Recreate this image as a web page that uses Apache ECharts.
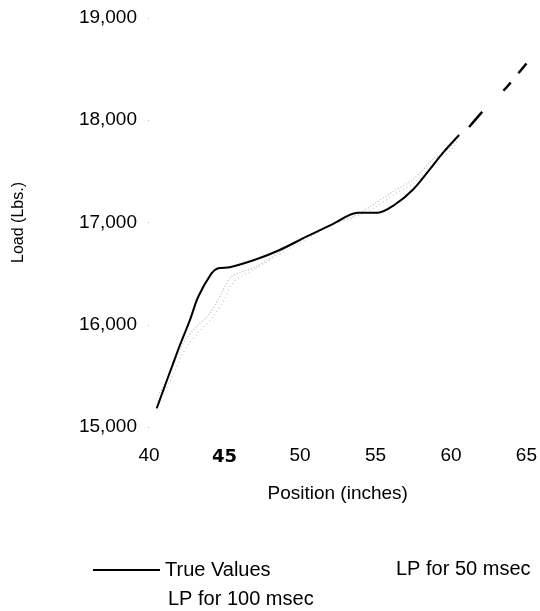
<!DOCTYPE html>
<html>
<head>
<meta charset="utf-8">
<script src="https://cdn.jsdelivr.net/npm/echarts@6/dist/echarts.min.js"></script>
<style>
  html, body { margin: 0; padding: 0; background: #fff; }
  #chart { width: 540px; height: 611px; }
</style>
</head>
<body>
<div id="chart"></div>
<script>
// ---- data ----
const xTicks = [40, 45, 50, 55, 60, 65];
const yTicks = [15000, 16000, 17000, 18000, 19000];

const trueX = [40.51, 41.60, 42.05, 42.71, 43.26, 44.14, 44.58, 45.35, 47.11, 48.65, 50.42, 52.17, 53.82, 55.15, 56.25, 57.46, 58.56, 59.44, 60.54];
const trueY = [15183, 15623, 15802, 16046, 16274, 16503, 16552, 16562, 16640, 16731, 16861, 16985, 17096, 17096, 17171, 17318, 17513, 17677, 17856];

const trueTailX = [61.20, 62.08, 63.63, 65.00];
const trueTailY = [17934, 18084, 18313, 18555];

const lp50X = [40.51, 41.17, 42.27, 43.15, 44.03, 44.80, 45.46, 47.11, 48.87, 52.17, 53.49, 54.81, 56.14, 57.46, 58.78, 59.88, 60.54];
const lp50Y = [15281, 15460, 15819, 15981, 16112, 16308, 16470, 16568, 16731, 16985, 17057, 17171, 17301, 17416, 17611, 17726, 17856];

const lp100X = [40.60, 41.30, 42.40, 43.30, 44.20, 45.00, 45.60, 47.20, 49.00, 52.20, 53.60, 55.00, 56.30, 57.60, 58.90, 60.00, 60.60];
const lp100Y = [15250, 15420, 15760, 15930, 16070, 16250, 16420, 16560, 16720, 16980, 17050, 17150, 17280, 17390, 17590, 17710, 17850];

const seriesNames = ['True Values', 'LP for 50 msec', 'LP for 100 msec'];

function pairs(xs, ys) { return xs.map((x, i) => [x, ys[i]]); }

const FONT = 'Liberation Sans, Arial, sans-serif';
const chart = echarts.init(document.getElementById('chart'), null, { renderer: 'canvas' });

chart.setOption({
  animation: false,
  backgroundColor: '#ffffff',
  textStyle: { fontFamily: FONT, color: '#000' },
  grid: { left: 149, right: 12.5, top: 18, bottom: 184 },
  xAxis: {
    type: 'value',
    min: xTicks[0], max: xTicks[xTicks.length - 1], interval: 5,
    name: 'Position (inches)', nameLocation: 'middle', nameGap: 57,
    nameTextStyle: { fontSize: 19, color: '#000', fontFamily: FONT },
    axisLine: { show: false }, axisTick: { show: false }, splitLine: { show: false },
    axisLabel: {
      margin: 19, fontSize: 19, color: '#000', fontFamily: FONT,
      formatter: v => v === 45 ? '{b|45}' : String(v),
      rich: { b: { fontSize: 18, lineHeight: 19, padding: [3, 0, 0, 0], fontWeight: 'bold', fontFamily: 'DejaVu Sans', color: '#000' } }
    }
  },
  yAxis: {
    type: 'value',
    min: yTicks[0], max: yTicks[yTicks.length - 1], interval: 1000,
    name: 'Load (Lbs.)', nameLocation: 'middle', nameRotate: 90, nameGap: 122,
    nameTextStyle: { fontSize: 16, color: '#000', fontFamily: FONT },
    axisLine: { show: false },
    axisTick: { show: true, length: 1, lineStyle: { color: '#bbb' } },
    splitLine: { show: false },
    axisLabel: {
      margin: 12, fontSize: 19, color: '#000', fontFamily: FONT,
      formatter: v => v.toLocaleString('en-US')
    }
  },
  legend: [
    { data: [seriesNames[0]], left: 93, top: 560, padding: 0, icon: 'rect', itemWidth: 67, itemHeight: 2, itemGap: 0,
      textStyle: { fontSize: 20, color: '#000', fontFamily: FONT } },
    { data: [seriesNames[1]], left: 323, top: 559, padding: 0, itemWidth: 67, itemHeight: 14, itemGap: 0,
      lineStyle: { opacity: 0 }, itemStyle: { opacity: 0 },
      textStyle: { fontSize: 20, color: '#000', fontFamily: FONT } },
    { data: [seriesNames[2]], left: 95, top: 589, padding: 0, itemWidth: 67, itemHeight: 14, itemGap: 0,
      lineStyle: { opacity: 0 }, itemStyle: { opacity: 0 },
      textStyle: { fontSize: 20, color: '#000', fontFamily: FONT } }
  ],
  series: [
    { name: seriesNames[1], type: 'line', symbol: 'none', smooth: 0.3,
      data: pairs(lp50X, lp50Y),
      lineStyle: { color: '#b8b8b8', width: 1.2, type: [1, 2] }, itemStyle: { color: '#b8b8b8' }, z: 2 },
    { name: seriesNames[2], type: 'line', symbol: 'none', smooth: 0.3,
      data: pairs(lp100X, lp100Y),
      lineStyle: { color: '#c8c8c8', width: 1.2, type: [1, 3] }, itemStyle: { color: '#c8c8c8' }, z: 2 },
    { name: seriesNames[0], type: 'line', symbol: 'none', smooth: 0.3,
      data: pairs(trueX, trueY),
      lineStyle: { color: '#000', width: 2 }, itemStyle: { color: '#000' }, z: 3 },
    { name: 'trueTail', type: 'line', symbol: 'none', smooth: 0.2,
      data: pairs(trueTailX, trueTailY),
      lineStyle: { color: '#000', width: 2.5, type: [20, 30, 11, 12, 14, 40] }, itemStyle: { color: '#000' }, z: 3 }
  ]
});
</script>
</body>
</html>
